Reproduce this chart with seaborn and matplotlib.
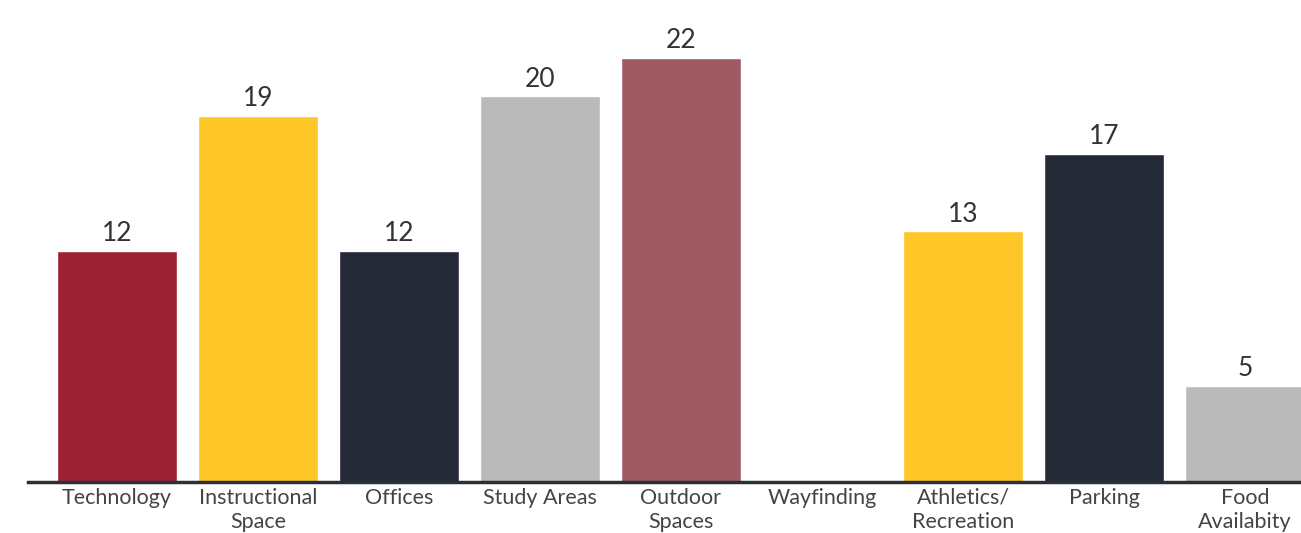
import numpy as np
import pandas as pd
import matplotlib
matplotlib.use("Agg")
import matplotlib.pyplot as plt
import seaborn as sns

categories = ["Technology", "Instructional\nSpace", "Offices", "Study Areas", "Outdoor\nSpaces",
              "Wayfinding", "Athletics/\nRecreation", "Parking", "Food\nAvailabity"]
values = [12, 19, 12, 20, 22, np.nan, 13, 17, 5]
colors = ["#9c2133", "#ffc627", "#232a35", "#bababa", "#a05a63",
          "#ffffff", "#ffc627", "#232a35", "#bababa"]

sns.set_theme(style="white")
plt.rcParams["font.family"] = ["Lato", "DejaVu Sans"]

df = pd.DataFrame({"category": categories, "value": values})

fig = plt.figure(figsize=(13.01, 5.33), dpi=100)
ax = fig.add_axes([28 / 1301, 51 / 533, 1 - 28 / 1301, 482 / 533])
sns.barplot(data=df, x="category", y="value", hue="category", palette=colors,
            legend=False, width=0.845, saturation=1, ax=ax)

for i, v in enumerate(values):
    if not np.isnan(v):
        ax.text(i, v + 0.25, f"{v:g}", ha="center", va="bottom", fontsize=19, color="#333333")

ax.set_xlim(-0.631, 8.397)
ax.set_ylim(0, 25.0)
ax.set_xlabel("")
ax.set_ylabel("")
ax.set_yticks([])
for s in ["top", "right", "left"]:
    ax.spines[s].set_visible(False)
ax.spines["bottom"].set_color("#2b2f36")
ax.spines["bottom"].set_linewidth(2.5)
ax.tick_params(axis="x", length=0, pad=4, labelsize=15.5, labelcolor="#444444")
for lbl in ax.get_xticklabels():
    lbl.set_linespacing(1.25)

fig.savefig("out.png", dpi=100)
